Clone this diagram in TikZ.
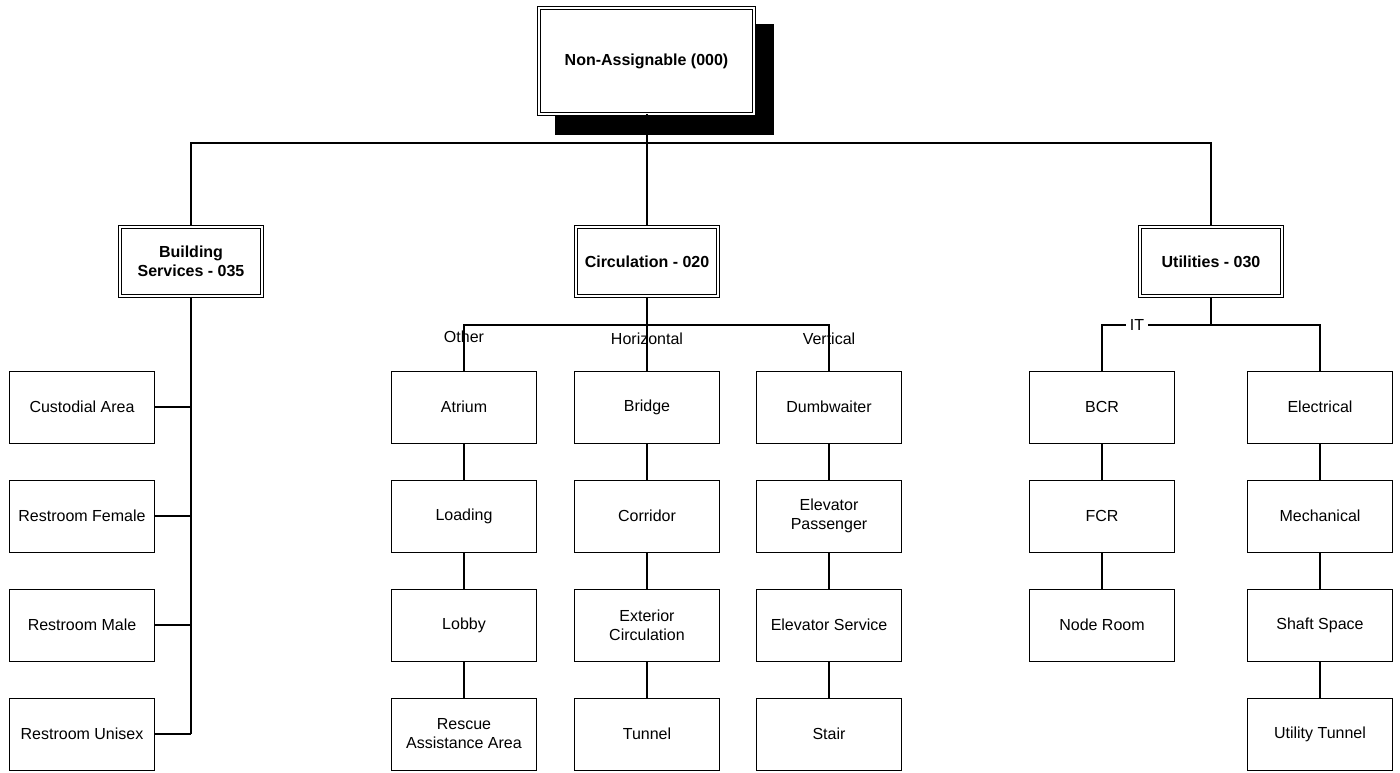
\documentclass[tikz,border=0pt]{standalone}
\usepackage{fontspec}
\setmainfont{Liberation Sans}
\begin{document}
\begin{tikzpicture}[x=1pt,y=-1pt,
  txt/.style={font=\fontsize{16}{19}\selectfont},
  leaf/.style={txt,draw,line width=1pt,minimum width=145pt,minimum height=72pt,inner sep=0pt,align=center},
  head/.style={draw,double,double distance=2.4pt,line width=1pt,font=\fontsize{16}{19}\selectfont\bfseries,
               inner sep=0pt,align=center,fill=white},
  link/.style={line width=1.1pt},
  trunk/.style={line width=1.8pt},
  branchlbl/.style={txt,inner sep=1pt}]
\useasboundingbox (0,0) rectangle (1400,773);

% root box with its solid drop shadow
\fill (555,24) rectangle (774,135);
\node[head,minimum width=215pt,minimum height=106pt] (root) at (646.5,61) {Non-Assignable (000)};

% second level
\node[head,minimum width=142.5pt,minimum height=69.5pt] (bldg) at (191,261.5) {Building\\Services - 035};
\node[head,minimum width=142.5pt,minimum height=69.5pt] (circ) at (647,261.5) {Circulation - 020};
\node[head,minimum width=142.5pt,minimum height=69.5pt] (util) at (1211,261.5) {Utilities - 030};

% building services column
\node[leaf] (custodial) at (82,407)  {Custodial Area};
\node[leaf] (rfemale)   at (82,516)  {Restroom Female};
\node[leaf] (rmale)     at (82,625)  {Restroom Male};
\node[leaf] (runisex)   at (82,734)  {Restroom Unisex};

% circulation columns
\node[leaf] (atrium)  at (464,407) {Atrium};
\node[leaf] (loading) at (464,516) {Loading};
\node[leaf] (lobby)   at (464,625) {Lobby};
\node[leaf] (rescue)  at (464,734) {Rescue\\Assistance Area};

\node[leaf] (bridge)   at (647,407) {Bridge};
\node[leaf] (corridor) at (647,516) {Corridor};
\node[leaf] (extcirc)  at (647,625) {Exterior\\Circulation};
\node[leaf] (tunnel)   at (647,734) {Tunnel};

\node[leaf] (dumb)    at (829,407) {Dumbwaiter};
\node[leaf] (elevpas) at (829,516) {Elevator\\Passenger};
\node[leaf] (elevsvc) at (829,625) {Elevator Service};
\node[leaf] (stair)   at (829,734) {Stair};

% utilities columns
\node[leaf] (bcr)      at (1102,407) {BCR};
\node[leaf] (fcr)      at (1102,516) {FCR};
\node[leaf] (noderoom) at (1102,625) {Node Room};

\node[leaf] (elec)     at (1320,407) {Electrical};
\node[leaf] (mech)     at (1320,516) {Mechanical};
\node[leaf] (shaft)    at (1320,625) {Shaft Space};
\node[leaf] (utunnel)  at (1320,734) {Utility Tunnel};

% top level connectors
\coordinate (j0) at (647,143);
\draw[link] (root.south -| j0) -- (j0);
\draw[link] (j0) -- (circ.north);
\draw[link] (j0) -| (bldg.north);
\draw[link] (j0) -| (util.north);

% building services trunk
\draw[trunk] (bldg.south) -- (bldg.south |- runisex.east);
\foreach \b in {custodial,rfemale,rmale,runisex}
  \draw[link] (\b.east) -- (\b.east -| bldg.south);

% circulation branches
\coordinate (cj) at (647,325);
\draw[link] (circ.south) -- (cj);
\draw[link] (cj) -| (atrium.north);
\draw[link] (cj) -| (dumb.north);
\draw[link] (cj) -- (bridge.north);
\draw[link] (atrium) -- (loading) (loading) -- (lobby) (lobby) -- (rescue);
\draw[link] (bridge) -- (corridor) (corridor) -- (extcirc) (extcirc) -- (tunnel);
\draw[link] (dumb) -- (elevpas) (elevpas) -- (elevsvc) (elevsvc) -- (stair);
\node[branchlbl] (lother) at (464,337) {Other};
\node[branchlbl] (lhoriz) at (647,339) {Horizontal};
\node[branchlbl] (lvert)  at (829,339) {Vertical};

% utilities branches
\coordinate (uj) at (1211,325);
\draw[link] (util.south) -- (uj);
\draw[link] (uj) -| (bcr.north);
\draw[link] (uj) -| (elec.north);
\draw[link] (bcr) -- (fcr) (fcr) -- (noderoom);
\draw[link] (elec) -- (mech) (mech) -- (shaft) (shaft) -- (utunnel);
\node[branchlbl,fill=white,inner xsep=4pt] (lit) at (1137,325) {IT};
\end{tikzpicture}
\end{document}
